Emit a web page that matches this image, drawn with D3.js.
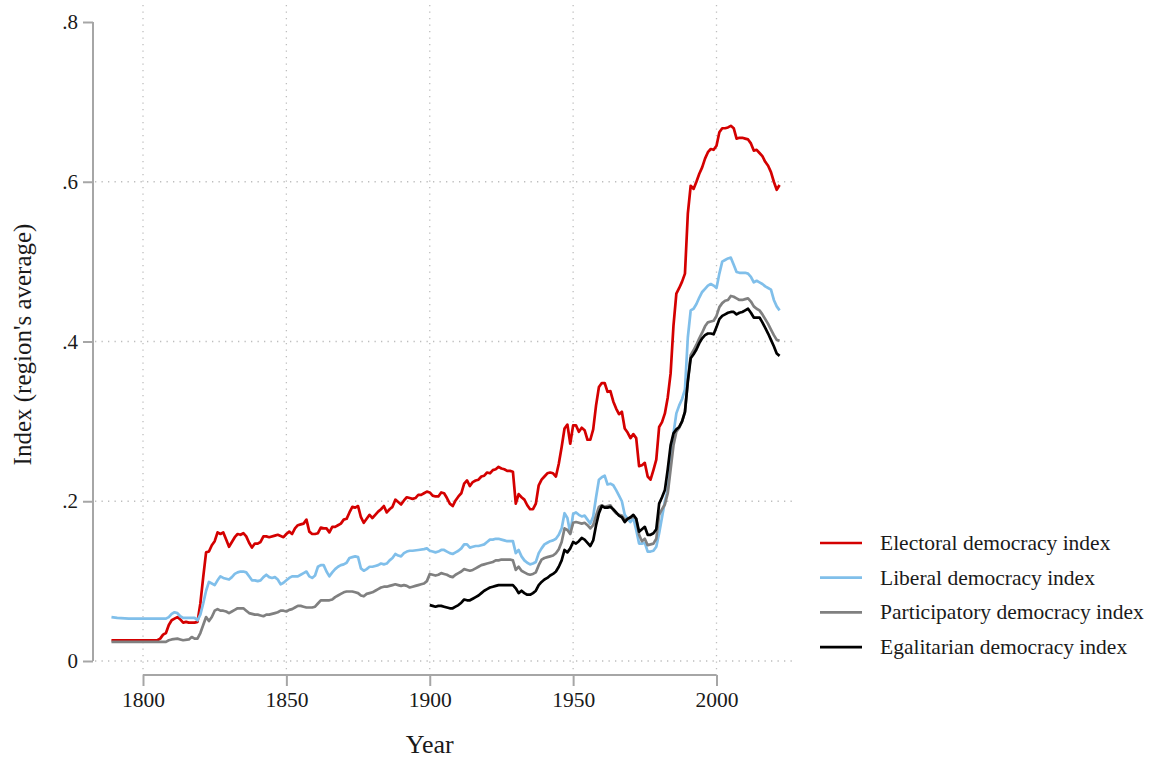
<!DOCTYPE html>
<html><head><meta charset="utf-8">
<script src="https://cdn.jsdelivr.net/npm/d3@7"></script>
<style>body{margin:0;background:#fff}svg{display:block}text{font-family:"Liberation Serif","DejaVu Serif",serif;fill:#1a1a1a}</style>
</head><body><svg id="c" width="1156" height="758"></svg>
<script>
const yTicks=[0,.2,.4,.6,.8];
const yTickLabels=["0",".2",".4",".6",".8"];
const xTicks=[1800,1850,1900,1950,2000];
const seriesNames=["Electoral democracy index","Liberal democracy index","Participatory democracy index","Egalitarian democracy index"];
const seriesColors=["#d40000","#80bfea","#808080","#000000"];

const electoral=[[1789,.026],[1800,.026],[1805,.026],[1806,.028],[1807,.033],[1808,.035],[1809,.045],[1810,.051],[1811,.053],[1812,.055],[1813,.052],[1814,.048],[1815,.049],[1816,.048],[1818,.048],[1819,.049],[1820,.072],[1821,.105],[1822,.136],[1823,.137],[1824,.145],[1825,.150],[1826,.161],[1827,.159],[1828,.161],[1829,.152],[1830,.143],[1831,.149],[1832,.155],[1833,.159],[1834,.158],[1835,.160],[1836,.156],[1837,.148],[1838,.142],[1839,.147],[1840,.147],[1841,.149],[1842,.156],[1843,.156],[1844,.155],[1846,.157],[1847,.158],[1849,.155],[1850,.159],[1851,.162],[1852,.159],[1853,.166],[1854,.170],[1855,.171],[1856,.172],[1857,.177],[1858,.162],[1859,.159],[1860,.159],[1861,.160],[1862,.167],[1863,.166],[1864,.166],[1865,.161],[1866,.168],[1867,.168],[1868,.170],[1869,.172],[1870,.177],[1871,.178],[1872,.186],[1873,.193],[1874,.192],[1875,.194],[1876,.180],[1877,.173],[1878,.178],[1879,.183],[1880,.179],[1881,.183],[1882,.187],[1883,.190],[1884,.194],[1885,.186],[1886,.190],[1887,.193],[1888,.202],[1889,.199],[1890,.196],[1891,.201],[1892,.205],[1893,.204],[1894,.203],[1895,.204],[1896,.208],[1897,.208],[1898,.210],[1899,.212],[1900,.211],[1901,.207],[1902,.206],[1903,.206],[1904,.211],[1905,.210],[1906,.204],[1907,.197],[1908,.194],[1909,.201],[1910,.206],[1911,.210],[1912,.222],[1913,.226],[1914,.219],[1915,.224],[1916,.226],[1917,.227],[1918,.231],[1919,.232],[1920,.236],[1921,.235],[1922,.239],[1923,.240],[1924,.243],[1925,.241],[1926,.240],[1927,.238],[1928,.238],[1929,.237],[1930,.197],[1931,.209],[1932,.205],[1933,.202],[1934,.195],[1935,.190],[1936,.190],[1937,.197],[1938,.220],[1939,.227],[1940,.231],[1941,.235],[1942,.236],[1943,.235],[1944,.231],[1945,.247],[1946,.268],[1947,.291],[1948,.296],[1949,.272],[1950,.295],[1951,.295],[1952,.287],[1953,.292],[1954,.289],[1955,.277],[1956,.277],[1957,.290],[1958,.320],[1959,.343],[1960,.348],[1961,.348],[1962,.337],[1963,.338],[1964,.325],[1965,.316],[1966,.309],[1967,.312],[1968,.291],[1969,.286],[1970,.279],[1971,.284],[1972,.279],[1973,.244],[1974,.245],[1975,.248],[1976,.231],[1977,.227],[1978,.239],[1979,.252],[1980,.293],[1981,.299],[1982,.310],[1983,.330],[1984,.360],[1985,.420],[1986,.460],[1987,.467],[1988,.475],[1989,.485],[1990,.560],[1991,.595],[1992,.591],[1993,.600],[1994,.610],[1995,.618],[1996,.629],[1997,.637],[1998,.641],[1999,.640],[2000,.645],[2001,.662],[2002,.667],[2003,.667],[2004,.668],[2005,.670],[2006,.667],[2007,.654],[2008,.655],[2009,.655],[2010,.654],[2011,.653],[2012,.648],[2013,.639],[2014,.640],[2015,.636],[2016,.632],[2017,.625],[2018,.620],[2019,.612],[2020,.600],[2021,.590],[2022,.596]];

const liberal=[[1789,.055],[1791,.054],[1795,.053],[1808,.053],[1809,.055],[1810,.059],[1811,.061],[1812,.060],[1813,.056],[1814,.054],[1818,.054],[1819,.051],[1820,.058],[1821,.072],[1822,.088],[1823,.099],[1824,.097],[1825,.095],[1826,.101],[1827,.106],[1828,.104],[1829,.103],[1830,.102],[1831,.105],[1832,.109],[1833,.111],[1834,.112],[1835,.112],[1836,.111],[1837,.106],[1838,.101],[1839,.101],[1840,.100],[1841,.101],[1842,.105],[1843,.108],[1844,.105],[1845,.104],[1846,.105],[1847,.102],[1848,.096],[1849,.098],[1850,.101],[1851,.104],[1852,.106],[1853,.106],[1854,.106],[1855,.108],[1856,.110],[1857,.112],[1858,.106],[1859,.104],[1860,.107],[1861,.118],[1862,.120],[1863,.120],[1864,.112],[1865,.106],[1866,.111],[1867,.115],[1868,.118],[1869,.120],[1870,.121],[1871,.123],[1872,.129],[1873,.130],[1874,.131],[1875,.130],[1876,.116],[1877,.113],[1878,.115],[1879,.118],[1880,.118],[1881,.119],[1882,.120],[1883,.122],[1884,.121],[1885,.122],[1886,.126],[1887,.129],[1888,.134],[1889,.132],[1890,.131],[1891,.135],[1892,.137],[1893,.138],[1894,.138],[1896,.139],[1898,.140],[1899,.141],[1900,.138],[1901,.137],[1902,.136],[1903,.137],[1904,.139],[1905,.139],[1906,.137],[1907,.135],[1908,.134],[1909,.136],[1910,.138],[1911,.141],[1912,.146],[1913,.146],[1914,.142],[1915,.143],[1916,.144],[1917,.144],[1918,.145],[1919,.146],[1920,.149],[1921,.152],[1922,.152],[1923,.153],[1924,.153],[1925,.152],[1926,.151],[1927,.150],[1928,.150],[1929,.150],[1930,.135],[1931,.139],[1932,.131],[1933,.126],[1934,.123],[1935,.121],[1936,.122],[1937,.124],[1938,.135],[1939,.141],[1940,.146],[1941,.148],[1942,.150],[1943,.151],[1944,.153],[1945,.158],[1946,.166],[1947,.185],[1948,.179],[1949,.160],[1950,.184],[1951,.186],[1952,.183],[1953,.181],[1954,.182],[1955,.177],[1956,.172],[1957,.181],[1958,.205],[1959,.227],[1960,.230],[1961,.232],[1962,.221],[1963,.222],[1964,.220],[1965,.214],[1966,.207],[1967,.200],[1968,.183],[1969,.178],[1970,.174],[1971,.179],[1972,.164],[1973,.147],[1974,.147],[1975,.148],[1976,.137],[1977,.137],[1978,.138],[1979,.143],[1980,.160],[1981,.180],[1982,.200],[1983,.214],[1984,.250],[1985,.285],[1986,.310],[1987,.320],[1988,.328],[1989,.340],[1990,.405],[1991,.439],[1992,.441],[1993,.447],[1994,.455],[1995,.462],[1996,.466],[1997,.470],[1998,.472],[1999,.470],[2000,.467],[2001,.485],[2002,.500],[2003,.502],[2004,.504],[2005,.505],[2006,.496],[2007,.487],[2008,.486],[2009,.486],[2010,.486],[2011,.485],[2012,.481],[2013,.474],[2014,.476],[2015,.474],[2016,.472],[2017,.469],[2018,.467],[2019,.465],[2020,.452],[2021,.444],[2022,.439]];

const participatory=[[1789,.024],[1808,.024],[1809,.026],[1810,.027],[1812,.028],[1813,.027],[1814,.026],[1816,.027],[1817,.030],[1818,.028],[1819,.028],[1820,.035],[1821,.045],[1822,.055],[1823,.050],[1824,.055],[1825,.063],[1826,.065],[1827,.063],[1828,.063],[1829,.062],[1830,.060],[1831,.062],[1832,.064],[1833,.066],[1834,.066],[1835,.066],[1836,.063],[1837,.060],[1838,.059],[1839,.058],[1840,.058],[1841,.057],[1842,.056],[1843,.058],[1844,.058],[1845,.059],[1846,.060],[1847,.061],[1848,.063],[1849,.063],[1850,.062],[1851,.064],[1852,.065],[1853,.067],[1854,.069],[1855,.069],[1856,.068],[1857,.067],[1858,.067],[1859,.067],[1860,.068],[1861,.072],[1862,.076],[1863,.076],[1864,.076],[1865,.076],[1866,.077],[1867,.080],[1868,.082],[1869,.084],[1870,.086],[1871,.087],[1872,.087],[1873,.087],[1874,.086],[1875,.085],[1876,.082],[1877,.081],[1878,.084],[1879,.085],[1880,.086],[1881,.088],[1882,.090],[1883,.092],[1884,.093],[1885,.093],[1886,.094],[1887,.095],[1888,.096],[1889,.095],[1890,.094],[1891,.095],[1892,.094],[1893,.092],[1894,.093],[1895,.094],[1896,.095],[1897,.096],[1898,.097],[1899,.100],[1900,.109],[1901,.108],[1902,.107],[1903,.108],[1904,.110],[1905,.109],[1906,.108],[1907,.106],[1908,.105],[1909,.108],[1910,.110],[1911,.112],[1912,.115],[1913,.114],[1914,.113],[1915,.114],[1916,.116],[1917,.118],[1918,.120],[1919,.121],[1920,.122],[1921,.123],[1922,.124],[1923,.126],[1924,.126],[1925,.127],[1926,.127],[1927,.127],[1928,.127],[1929,.126],[1930,.114],[1931,.118],[1932,.113],[1933,.111],[1934,.109],[1935,.108],[1936,.109],[1937,.111],[1938,.120],[1939,.127],[1940,.129],[1941,.130],[1942,.131],[1943,.132],[1944,.135],[1945,.140],[1946,.149],[1947,.166],[1948,.164],[1949,.159],[1950,.173],[1951,.174],[1952,.173],[1953,.172],[1954,.173],[1955,.170],[1956,.166],[1957,.170],[1958,.182],[1959,.193],[1960,.195],[1961,.193],[1962,.194],[1963,.195],[1964,.189],[1965,.185],[1966,.183],[1967,.182],[1968,.177],[1969,.178],[1970,.179],[1971,.181],[1972,.178],[1973,.158],[1974,.150],[1975,.153],[1976,.145],[1977,.146],[1978,.147],[1979,.153],[1980,.183],[1981,.190],[1982,.196],[1983,.210],[1984,.240],[1985,.270],[1986,.287],[1987,.292],[1988,.300],[1989,.312],[1990,.350],[1991,.383],[1992,.389],[1993,.396],[1994,.404],[1995,.411],[1996,.419],[1997,.424],[1998,.425],[1999,.426],[2000,.432],[2001,.443],[2002,.448],[2003,.451],[2004,.452],[2005,.457],[2006,.456],[2007,.454],[2008,.452],[2009,.452],[2010,.453],[2011,.454],[2012,.450],[2013,.444],[2014,.441],[2015,.439],[2016,.434],[2017,.428],[2018,.422],[2019,.415],[2020,.408],[2021,.402],[2022,.401]];

const egalitarian=[[1900,.070],[1901,.069],[1902,.068],[1903,.069],[1904,.069],[1905,.068],[1906,.067],[1907,.066],[1908,.066],[1909,.068],[1910,.070],[1911,.073],[1912,.077],[1913,.076],[1914,.076],[1915,.078],[1916,.080],[1917,.082],[1918,.085],[1919,.088],[1920,.090],[1921,.092],[1922,.093],[1923,.094],[1924,.095],[1925,.095],[1926,.095],[1927,.095],[1928,.095],[1929,.095],[1930,.091],[1931,.085],[1932,.088],[1933,.085],[1934,.083],[1935,.083],[1936,.085],[1937,.088],[1938,.095],[1939,.099],[1940,.102],[1941,.104],[1942,.107],[1943,.109],[1944,.112],[1945,.118],[1946,.126],[1947,.139],[1948,.136],[1949,.141],[1950,.149],[1951,.147],[1952,.150],[1953,.154],[1954,.152],[1955,.148],[1956,.144],[1957,.151],[1958,.170],[1959,.185],[1960,.194],[1961,.192],[1962,.192],[1963,.193],[1964,.190],[1965,.186],[1966,.182],[1967,.180],[1968,.174],[1969,.178],[1970,.180],[1971,.183],[1972,.178],[1973,.162],[1974,.165],[1975,.168],[1976,.158],[1977,.158],[1978,.160],[1979,.165],[1980,.197],[1981,.205],[1982,.214],[1983,.240],[1984,.270],[1985,.285],[1986,.290],[1987,.293],[1988,.300],[1989,.312],[1990,.350],[1991,.379],[1992,.384],[1993,.390],[1994,.398],[1995,.404],[1996,.408],[1997,.410],[1998,.410],[1999,.409],[2000,.418],[2001,.428],[2002,.432],[2003,.434],[2004,.436],[2005,.437],[2006,.437],[2007,.434],[2008,.436],[2009,.437],[2010,.439],[2011,.441],[2012,.436],[2013,.430],[2014,.430],[2015,.430],[2016,.424],[2017,.417],[2018,.410],[2019,.402],[2020,.394],[2021,.385],[2022,.382]];

const svg=d3.select("#c");
const x=d3.scaleLinear().domain([1800,2000]).range([143,716.5]);
const y=d3.scaleLinear().domain([0,.8]).range([661,22]);
const plotL=95, plotR=795, plotT=5, plotB=675;
const gridColor="#bdbdbd";

// grid
const g=svg.append("g");
g.selectAll("line.hg").data(yTicks.filter(v=>v<.8)).join("line")
 .attr("x1",plotL).attr("x2",plotR).attr("y1",d=>y(d)).attr("y2",d=>y(d))
 .attr("stroke",gridColor).attr("stroke-width",1.3).attr("stroke-dasharray","1.3,5.2");
g.selectAll("line.vg").data(xTicks).join("line")
 .attr("x1",d=>x(d)).attr("x2",d=>x(d)).attr("y1",plotT).attr("y2",plotB)
 .attr("stroke",gridColor).attr("stroke-width",1.3).attr("stroke-dasharray","1.3,5.2");

// y axis
const ya=svg.append("g").attr("transform","translate(93,0)")
 .call(d3.axisLeft(y).tickValues(yTicks).tickFormat((d,i)=>yTickLabels[i]).tickSize(10).tickPadding(5));
ya.select(".domain").attr("stroke","#a6a6a6").attr("stroke-width",2).attr("d",`M0,${y(.8)}V${y(0)}`);
ya.selectAll(".tick line").attr("stroke","#a6a6a6").attr("stroke-width",2);
ya.selectAll(".tick text").attr("font-size",21).attr("fill","#1a1a1a").attr("font-family","Liberation Serif");

// x axis
const xa=svg.append("g").attr("transform","translate(0,675)")
 .call(d3.axisBottom(x).tickValues(xTicks).tickFormat(d3.format("d")).tickSize(11).tickPadding(6));
xa.select(".domain").attr("stroke","#a6a6a6").attr("stroke-width",2).attr("d",`M${x(1800)},0H${x(2000)}`);
xa.selectAll(".tick line").attr("stroke","#a6a6a6").attr("stroke-width",2);
xa.selectAll(".tick text").attr("font-size",21.5).attr("fill","#1a1a1a").attr("font-family","Liberation Serif");

// titles
svg.append("text").attr("x",x(1900)).attr("y",753).attr("text-anchor","middle").attr("font-size",26).text("Year");
svg.append("text").attr("transform",`translate(31,${y(.4)+3}) rotate(-90)`).attr("text-anchor","middle").attr("font-size",25).text("Index (region's average)");

// lines
const line=d3.line().x(d=>x(d[0])).y(d=>y(d[1]));
const all=[electoral,liberal,participatory,egalitarian];
svg.append("g").selectAll("path").data(all).join("path")
 .attr("d",line).attr("fill","none").attr("stroke",(d,i)=>seriesColors[i])
 .attr("stroke-width",2.7).attr("stroke-linejoin","round");

// legend
const lg=svg.append("g");
seriesNames.forEach((n,i)=>{
  const yy=543+i*34.7;
  lg.append("line").attr("x1",820).attr("x2",862).attr("y1",yy).attr("y2",yy).attr("stroke",seriesColors[i]).attr("stroke-width",2.7);
  lg.append("text").attr("x",880).attr("y",yy+7).attr("font-size",21.5).text(n);
});
</script></body></html>
